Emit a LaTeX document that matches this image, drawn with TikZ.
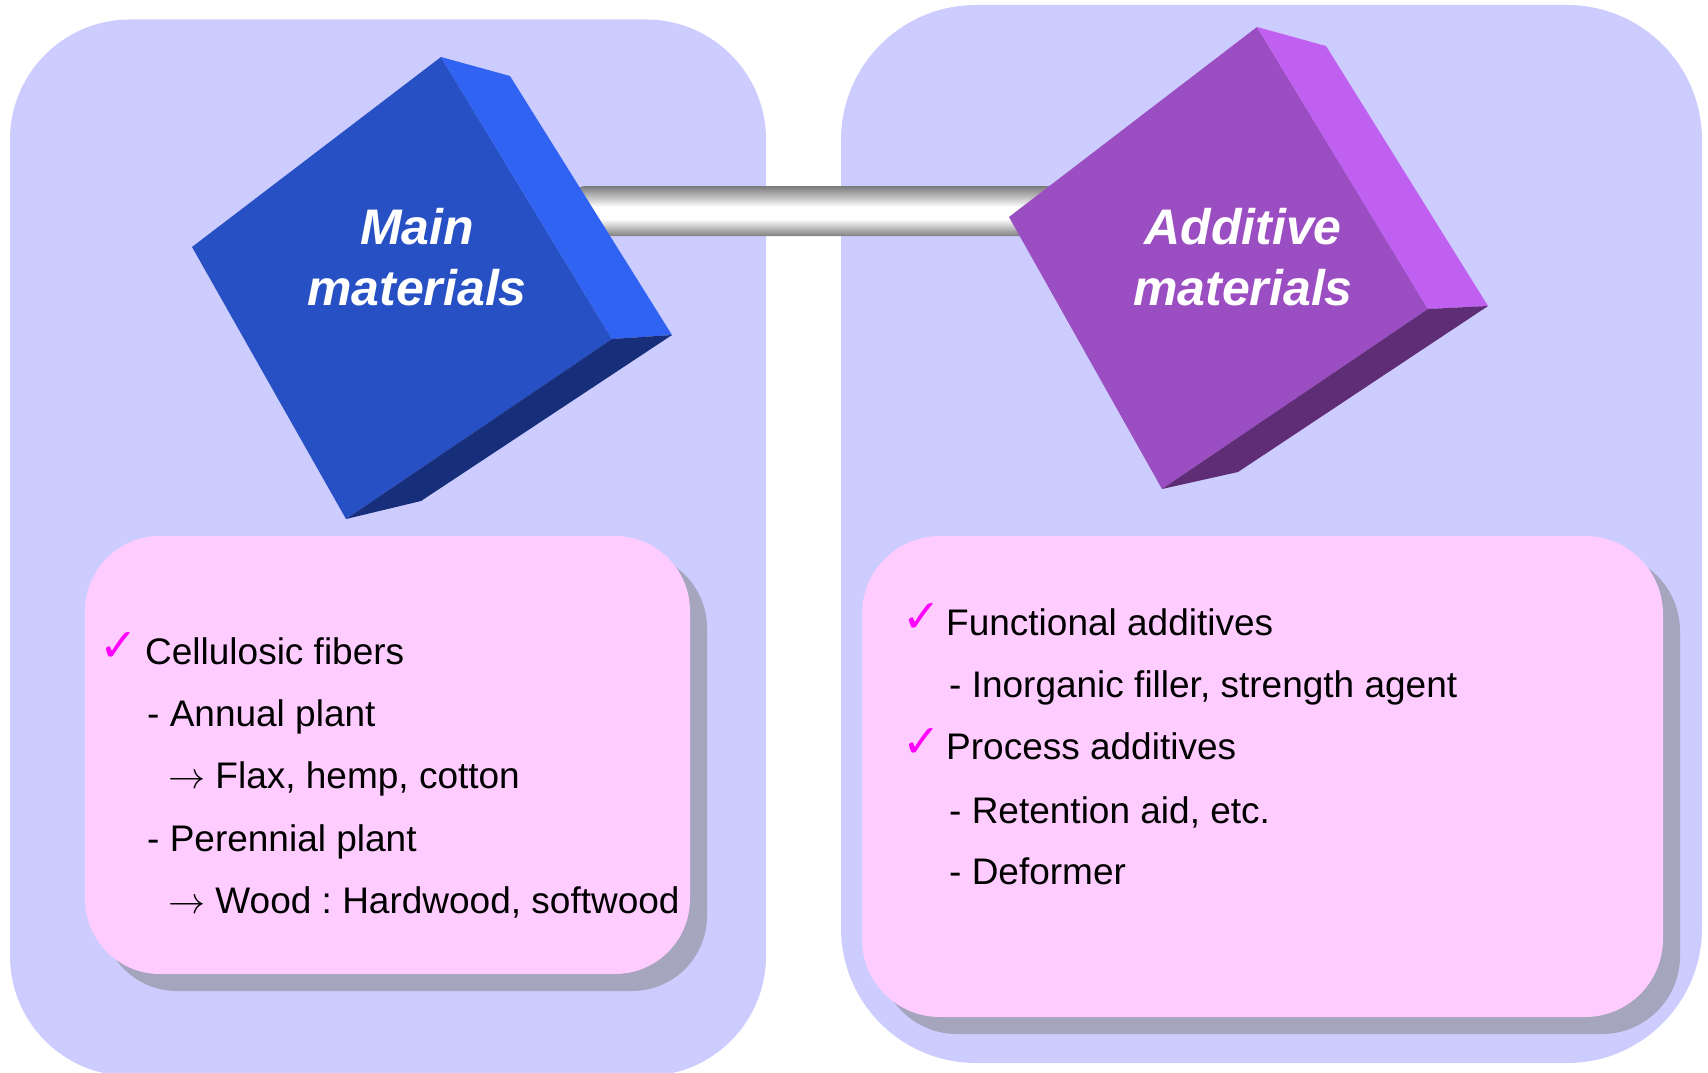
\documentclass[tikz,border=0pt]{standalone}
\usepackage{fontspec}
\setmainfont{Liberation Sans}
\newfontfamily\tickfont{DejaVu Sans}
\usepackage{tikz}

\definecolor{panelbg}{RGB}{204,204,255}
\definecolor{notebg}{RGB}{255,204,255}
\definecolor{noteshadow}{RGB}{165,165,189}
\definecolor{tickcolor}{RGB}{255,0,255}
\definecolor{bluefront}{RGB}{38,80,195}
\definecolor{blueside}{RGB}{48,99,242}
\definecolor{bluebottom}{RGB}{23,46,122}
\definecolor{violetfront}{RGB}{155,77,194}
\definecolor{violetside}{RGB}{192,96,240}
\definecolor{violetbottom}{RGB}{94,45,118}

% grey rod between the two blocks
\pgfdeclareverticalshading{rodshade}{100bp}{color(0bp)=(black!50); color(25bp)=(black!50); color(42bp)=(white); color(54bp)=(white); color(75bp)=(black!52); color(100bp)=(black!52)}

\newcommand{\leadsarrow}{\scalebox{3.7}{\normalsize$\rightarrow$}}

\begin{document}
\frenchspacing
\begin{tikzpicture}[x=1pt,y=-1pt,
    itemtext/.style={anchor=base west, inner sep=0pt, font=\fontsize{37}{44}\selectfont},
    checkmk/.style={inner sep=0pt, text=tickcolor, font=\tickfont\fontsize{46}{50}\selectfont},
    cubetext/.style={anchor=base, inner sep=0pt, text=white, font=\fontsize{50}{61}\selectfont\bfseries\itshape}]
  \useasboundingbox (0,0) rectangle (1708,1073);
  % panels
  \fill[panelbg, rounded corners=120pt] (10,19.5) rectangle (766,1076);
  \fill[panelbg, rounded corners=135pt] (841,5) rectangle (1702,1063);
  % rod
  \shade[shading=rodshade, rounded corners=14pt] (572,186) rectangle (1070,236);
  % left block
  \fill[bluefront]  (441,57) -- (192,247) -- (346,519) -- (612,339) -- cycle;
  \fill[blueside]   (441,57) -- (510,76) -- (672,335) -- (612,339) -- cycle;
  \fill[bluebottom] (612,339) -- (672,335) -- (421,501) -- (346,519) -- cycle;
  \node[cubetext] (main1) at (417,244) {Main};
  \node[cubetext] (main2) at (417,305) {materials};
  % right block
  \fill[violetfront]  (1257,27) -- (1009,217) -- (1162,489) -- (1428,309) -- cycle;
  \fill[violetside]   (1257,27) -- (1326,46) -- (1488,306) -- (1428,309) -- cycle;
  \fill[violetbottom] (1428,309) -- (1488,306) -- (1238,472) -- (1162,489) -- cycle;
  \node[cubetext] (add1) at (1243,244) {Additive};
  \node[cubetext] (add2) at (1243,305) {materials};
  % note boxes with shadow
  \fill[noteshadow, rounded corners=75pt] (102,553) rectangle (707,991);
  \fill[notebg, rounded corners=75pt] (85,536) rectangle (690,974);
  \fill[noteshadow, rounded corners=78pt] (879,553) rectangle (1680,1034);
  \fill[notebg, rounded corners=78pt] (862,536) rectangle (1663,1017);
  % left list
  \node[checkmk] (chk1) at (119,647) {✓};
  \node[itemtext] (fib) at (145,664) {Cellulosic fibers};
  \node[itemtext] (ann) at (147,726) {- Annual plant};
  \node[itemtext] (flax) at (168,788) {\leadsarrow\ Flax, hemp, cotton};
  \node[itemtext] (per) at (147,851) {- Perennial plant};
  \node[itemtext] (wood) at (168,913) {\leadsarrow\ Wood : Hardwood, softwood};
  % right list
  \node[checkmk] (chk2) at (921.5,618.5) {✓};
  \node[itemtext] (func) at (946,635) {Functional additives};
  \node[itemtext] (inorg) at (949,697) {- Inorganic filler, strength agent};
  \node[checkmk] (chk3) at (921.5,743.5) {✓};
  \node[itemtext] (proc) at (946,759) {Process additives};
  \node[itemtext] (ret) at (949,823) {- Retention aid, etc.};
  \node[itemtext] (defo) at (949,884) {- Deformer};
\end{tikzpicture}
\end{document}
